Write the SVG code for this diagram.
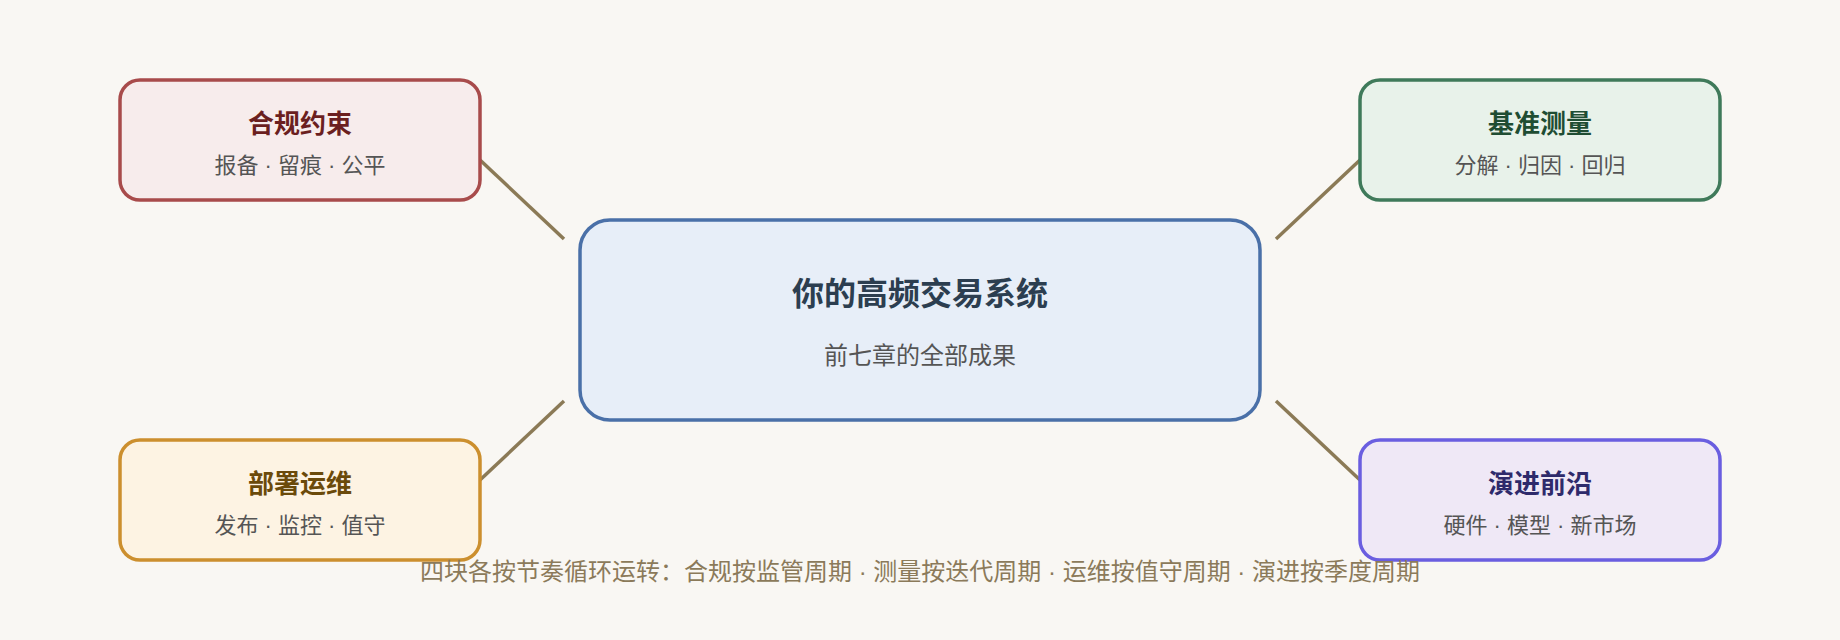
<svg xmlns="http://www.w3.org/2000/svg" width="1840" height="640" viewBox="0 0 1840 640">
<style>
text{font-family:"Liberation Sans","Noto Sans CJK SC",sans-serif;text-anchor:middle}
.t{font-size:26px;font-weight:bold}
.s{font-size:22px;fill:#555555}
.box{stroke-width:3.5}
.conn line{stroke:#8b7a56;stroke-width:3.5}
</style>
<rect width="1840" height="640" fill="#f9f7f3"/>
<g class="conn">
<line x1="480" y1="160" x2="564" y2="239"/>
<line x1="1276" y1="239" x2="1360" y2="160"/>
<line x1="480" y1="480" x2="564" y2="401"/>
<line x1="1276" y1="401" x2="1360" y2="480"/>
</g>
<g id="center">
<rect class="box" x="580" y="220" width="680" height="200" rx="30" fill="#e7eef8" stroke="#4a70a8" stroke-width="4.5"/>
<text x="920" y="305" style="font-size:32px;font-weight:bold" fill="#2c3e50">你的高频交易系统</text>
<text x="920" y="364" style="font-size:24px" fill="#555555">前七章的全部成果</text>
</g>
<g id="compliance">
<rect class="box" x="120" y="80" width="360" height="120" rx="20" fill="#f7ecec" stroke="#a84b4b"/>
<text class="t" x="300" y="133" fill="#6b1f1f">合规约束</text>
<text class="s" x="300" y="173">报备 · 留痕 · 公平</text>
</g>
<g id="measure">
<rect class="box" x="1360" y="80" width="360" height="120" rx="20" fill="#e8f2ea" stroke="#3f7a5a"/>
<text class="t" x="1540" y="133" fill="#1f4d33">基准测量</text>
<text class="s" x="1540" y="173">分解 · 归因 · 回归</text>
</g>
<g id="ops">
<rect class="box" x="120" y="440" width="360" height="120" rx="20" fill="#fdf3e3" stroke="#cc8f2e"/>
<text class="t" x="300" y="493" fill="#6b4a0a">部署运维</text>
<text class="s" x="300" y="533">发布 · 监控 · 值守</text>
</g>
<g id="frontier">
<rect class="box" x="1360" y="440" width="360" height="120" rx="20" fill="#efe8f6" stroke="#6a5ee0"/>
<text class="t" x="1540" y="493" fill="#2e2a6b">演进前沿</text>
<text class="s" x="1540" y="533">硬件 · 模型 · 新市场</text>
</g>
<text x="920" y="580" style="font-size:24px" fill="#8b7a5a">四块各按节奏循环运转：合规按监管周期 · 测量按迭代周期 · 运维按值守周期 · 演进按季度周期</text>
</svg>
